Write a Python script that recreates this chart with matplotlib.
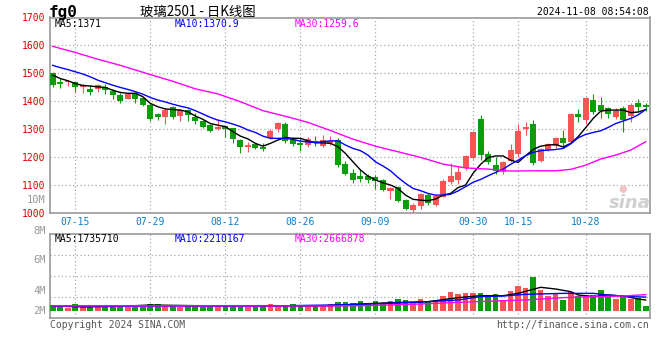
import numpy as np
import matplotlib
matplotlib.use('Agg')
import matplotlib.pyplot as plt

# === daily bars, fg2501, 80 sessions ending 2024-11-07 === #
opens = [1500, 1469, 1468, 1468, 1452, 1444, 1443, 1450, 1437, 1424,
         1409, 1430, 1412, 1387, 1355, 1343, 1380, 1348, 1369, 1345,
         1330, 1315, 1302, 1312, 1304, 1262, 1236, 1248, 1238, 1270,
         1300, 1319, 1262, 1253, 1244, 1259, 1242, 1253, 1262, 1178,
         1145, 1133, 1134, 1128, 1119, 1081, 1093, 1047, 1012, 1026,
         1065, 1031, 1059, 1112, 1119, 1161, 1199, 1337, 1211, 1172,
         1146, 1187, 1211, 1302, 1319, 1187, 1226, 1242, 1270, 1256,
         1356, 1333, 1405, 1387, 1375, 1345, 1375, 1349, 1396, 1387]
highs = [1506, 1482, 1476, 1470, 1462, 1458, 1462, 1462, 1446, 1429,
         1431, 1432, 1417, 1393, 1357, 1377, 1383, 1374, 1374, 1357,
         1333, 1318, 1337, 1314, 1306, 1264, 1256, 1252, 1250, 1300,
         1326, 1326, 1271, 1268, 1271, 1277, 1280, 1277, 1268, 1187,
         1158, 1158, 1140, 1137, 1122, 1093, 1097, 1051, 1038, 1071,
         1071, 1065, 1121, 1180, 1168, 1208, 1294, 1351, 1222, 1202,
         1187, 1246, 1318, 1325, 1333, 1232, 1250, 1274, 1298, 1357,
         1373, 1417, 1426, 1417, 1381, 1375, 1384, 1393, 1408, 1393]
lows = [1452, 1449, 1456, 1434, 1431, 1424, 1433, 1426, 1407, 1396,
        1407, 1393, 1383, 1330, 1333, 1318, 1338, 1330, 1331, 1319,
        1306, 1292, 1298, 1274, 1252, 1217, 1220, 1231, 1224, 1267,
        1292, 1252, 1242, 1224, 1236, 1240, 1238, 1244, 1166, 1136,
        1109, 1113, 1109, 1086, 1081, 1050, 1040, 1012, 1003, 1014,
        1028, 1026, 1057, 1106, 1104, 1155, 1194, 1190, 1175, 1139,
        1141, 1182, 1202, 1280, 1173, 1184, 1222, 1232, 1238, 1253,
        1327, 1318, 1354, 1339, 1342, 1337, 1292, 1325, 1363, 1366]
closes = [1458, 1463, 1474, 1452, 1460, 1433, 1460, 1440, 1424, 1401,
          1427, 1409, 1386, 1337, 1343, 1369, 1345, 1369, 1351, 1330,
          1310, 1294, 1309, 1302, 1264, 1236, 1244, 1234, 1231, 1294,
          1324, 1259, 1247, 1244, 1264, 1250, 1262, 1257, 1172, 1140,
          1119, 1121, 1119, 1116, 1083, 1089, 1045, 1017, 1030, 1069,
          1038, 1062, 1116, 1134, 1146, 1206, 1292, 1208, 1184, 1151,
          1182, 1226, 1295, 1308, 1181, 1230, 1246, 1268, 1253, 1354,
          1344, 1413, 1363, 1365, 1354, 1367, 1333, 1387, 1380, 1380]
# volume, millions of lots
volumes = [0.95, 0.68, 0.52, 1.11, 0.68, 0.59, 0.68, 0.59, 0.95, 0.68,
           0.59, 0.59, 0.68, 1.11, 1.11, 0.95, 0.95, 0.68, 0.95, 0.95,
           0.68, 0.95, 0.95, 0.95, 0.84, 0.68, 0.68, 0.68, 0.95, 1.11,
           0.68, 0.95, 1.11, 0.95, 0.95, 0.95, 0.95, 1.11, 1.48, 1.48,
           1.22, 1.59, 1.22, 1.59, 1.22, 1.59, 1.90, 1.75, 1.48, 1.90,
           1.59, 1.75, 2.43, 3.06, 2.70, 2.81, 2.90, 2.90, 2.54, 2.70,
           1.75, 3.17, 3.97, 3.70, 5.44, 3.33, 2.43, 2.90, 1.75, 2.97,
           2.43, 2.54, 2.54, 3.33, 2.38, 1.90, 2.38, 1.90, 2.02, 0.84]

# moving averages as drawn on the chart
ma5 = [1494, 1482, 1474, 1464, 1457, 1455, 1452, 1450, 1440, 1432,
       1429, 1429, 1417, 1393, 1381, 1373, 1371, 1369, 1363, 1348,
       1336, 1321, 1315, 1310, 1292, 1276, 1266, 1250, 1240, 1250,
       1262, 1271, 1268, 1268, 1259, 1252, 1252, 1250, 1238, 1214,
       1184, 1155, 1133, 1119, 1109, 1101, 1089, 1065, 1050, 1047,
       1045, 1051, 1065, 1071, 1092, 1101, 1143, 1175, 1199, 1205,
       1205, 1190, 1182, 1206, 1228, 1240, 1244, 1246, 1237, 1250,
       1274, 1306, 1339, 1365, 1369, 1369, 1369, 1360, 1362, 1371]
ma10 = [1529, 1521, 1514, 1506, 1498, 1488, 1476, 1467, 1458, 1450,
        1443, 1435, 1426, 1414, 1405, 1398, 1390, 1383, 1377, 1367,
        1355, 1343, 1333, 1327, 1319, 1310, 1298, 1289, 1276, 1268,
        1268, 1268, 1264, 1258, 1255, 1253, 1256, 1259, 1259, 1244,
        1232, 1224, 1208, 1184, 1169, 1152, 1128, 1107, 1089, 1081,
        1071, 1065, 1065, 1068, 1080, 1095, 1111, 1121, 1134, 1146,
        1158, 1175, 1190, 1206, 1218, 1224, 1226, 1228, 1232, 1248,
        1270, 1282, 1289, 1295, 1307, 1321, 1330, 1339, 1352, 1371]
ma30_idx = [1, 4, 7, 10, 14, 17, 20, 23, 26, 29, 32, 35, 38, 41, 44,
            47, 50, 53, 56, 59, 62, 65, 68, 70, 72, 74, 76, 78, 80]
ma30 = [1597, 1575, 1551, 1529, 1496, 1472, 1445, 1427, 1399, 1367,
        1347, 1325, 1296, 1265, 1240, 1220, 1200, 1176, 1162, 1158,
        1151, 1152, 1152, 1157, 1172, 1194, 1208, 1226, 1256]

vma5_idx = [1, 5, 10, 14, 20, 25, 30, 35, 38, 42, 46, 51, 55, 58, 61,
            63, 65, 66, 68, 70, 71, 73, 75, 77, 79, 80]
vma5 = [0.80, 0.65, 0.75, 0.95, 0.85, 0.80, 0.80, 0.80, 0.85, 1.11,
        1.32, 1.48, 2.12, 2.43, 2.43, 2.80, 3.44, 3.76, 3.49, 3.07,
        2.54, 2.28, 2.54, 2.38, 1.90, 1.74]
vma10_idx = [1, 10, 20, 30, 38, 42, 46, 51, 55, 58, 61, 64, 69, 73, 75, 78, 80]
vma10 = [0.80, 0.78, 0.80, 0.80, 0.95, 1.06, 1.22, 1.48, 1.75, 2.28,
         2.38, 2.65, 2.80, 2.80, 2.54, 2.28, 2.21]
vma30_idx = [1, 10, 20, 30, 38, 42, 46, 51, 55, 60, 64, 69, 73, 77, 80]
vma30 = [0.82, 0.82, 0.82, 0.80, 0.79, 0.85, 0.95, 1.16, 1.38, 1.59,
         1.75, 2.12, 2.28, 2.38, 2.60]

date_idx = [4, 14, 24, 34, 44, 57, 63, 72]
date_labels = ['07-15', '07-29', '08-12', '08-26', '09-09', '09-30', '10-15', '10-28']
price_ticks = [1000, 1100, 1200, 1300, 1400, 1500, 1600, 1700]

RED, GREEN = '#f55555', '#0a9e0a'
GRID = '#aaaaaa'
MONO = 'DejaVu Sans Mono'

W, H = 660, 360
fig = plt.figure(figsize=(W / 100, H / 100), dpi=100)
fig.patch.set_facecolor('white')


def box(l, t, r, b):
    return [l / W, 1 - b / H, (r - l) / W, (b - t) / H]


def px(x, y):
    return x / W, 1 - y / H


ax = fig.add_axes(box(50, 17.5, 650, 213.3))
axv = fig.add_axes(box(50, 234, 650, 318))

x = np.arange(1, len(closes) + 1)
o, c = np.array(opens), np.array(closes)
colors = [RED if cc >= oo else GREEN for oo, cc in zip(o, c)]

# === candles === #
ax.vlines(x, lows, highs, colors=colors, lw=0.8, zorder=2)
ax.bar(x, np.abs(c - o), bottom=np.minimum(o, c), width=0.8, color=colors,
       linewidth=0, zorder=3)
ax.plot(x, ma5, color='black', lw=1, zorder=4)
ax.plot(x, ma10, color='#0000ff', lw=1, zorder=4)
ax.plot(ma30_idx, ma30, color='#ff00ff', lw=1, zorder=4)

ax.set_xlim(0.64, 80.57)
ax.set_ylim(1000, 1700)
ax.set_yticks(price_ticks)
ax.set_xticks(date_idx)
ax.set_xticklabels(date_labels)

# === volume === #
axv.bar(x, volumes, width=0.76, color=colors, linewidth=0, zorder=3)
axv.plot(vma5_idx, vma5, color='black', lw=1, zorder=4)
axv.plot(vma10_idx, vma10, color='#0000ff', lw=1, zorder=4)
axv.plot(vma30_idx, vma30, color='#ff00ff', lw=1, zorder=4)
axv.set_xlim(0.64, 80.57)
vlo, vhi = -1.11, 12.22
axv.set_ylim(vlo, vhi)
axv.set_xticks(date_idx)
axv.set_xticklabels([])
axv.set_yticks([vlo + (vhi - vlo) * k / 4 for k in (1, 2, 3)])
axv.set_yticklabels([])

for a in (ax, axv):
    a.grid(True, color=GRID, ls=(0, (1, 2)), lw=0.9)
    a.set_axisbelow(True)
    a.tick_params(length=0)
    for s in a.spines.values():
        s.set_color('#999999')
        s.set_linewidth(1.2)

ax.tick_params(axis='y', labelcolor='#e00000', labelsize=7, pad=3)
ax.tick_params(axis='x', labelcolor='#0a7fcc', labelsize=7, pad=3)
for lab in ax.get_xticklabels() + ax.get_yticklabels():
    lab.set_fontfamily(MONO)

# volume scale labels, placed where the chart puts them
for lab, v in [('2M', 0.0), ('4M', 3.17), ('6M', 8.1), ('8M', 12.7), ('10M', 17.6)]:
    axv.annotate(lab, xy=(0, v), xycoords=('axes fraction', 'data'),
                 xytext=(-3, 0), textcoords='offset points', ha='right', va='center',
                 fontsize=7.5, family=MONO, color='#999999', annotation_clip=False)

# === header texts === #
fig.text(*px(49, 13), 'fg0', fontsize=11.5, weight='bold', family=MONO, va='center')
fig.text(*px(140, 12), '玻璃2501 - 日K线图', fontsize=9.6,
         family=['Noto Sans CJK SC', 'DejaVu Sans'], va='center')
fig.text(*px(649, 12), '2024-11-08 08:54:08', fontsize=7, family=MONO,
         ha='right', va='center')

fig.text(*px(55, 24), 'MA5:1371', fontsize=7, family=MONO, va='center', color='black')
fig.text(*px(175, 24), 'MA10:1370.9', fontsize=7, family=MONO, va='center', color='#0000ff')
fig.text(*px(295, 24), 'MA30:1259.6', fontsize=7, family=MONO, va='center', color='#ff00ff')

fig.text(*px(55, 238.5), 'MA5:1735710', fontsize=7, family=MONO, va='center', color='black')
fig.text(*px(175, 238.5), 'MA10:2210167', fontsize=7, family=MONO, va='center', color='#0000ff')
fig.text(*px(295, 238.5), 'MA30:2666878', fontsize=7, family=MONO, va='center', color='#ff00ff')

fig.text(*px(50, 325), 'Copyright 2024 SINA.COM', fontsize=7, family=MONO,
         va='center', color='#555555')
fig.text(*px(649, 325), 'http://finance.sina.com.cn', fontsize=7, family=MONO,
         ha='right', va='center', color='#555555')

# faint sina watermark
fig.text(*px(630, 203), 'sina', fontsize=13, weight='bold', style='italic',
         color='#d0d0d0', ha='center', va='center', family='DejaVu Sans')
fig.text(*px(623, 189), '●', fontsize=7, color='#f3c4c4', ha='center', va='center')

fig.savefig('out.png', dpi=100)
